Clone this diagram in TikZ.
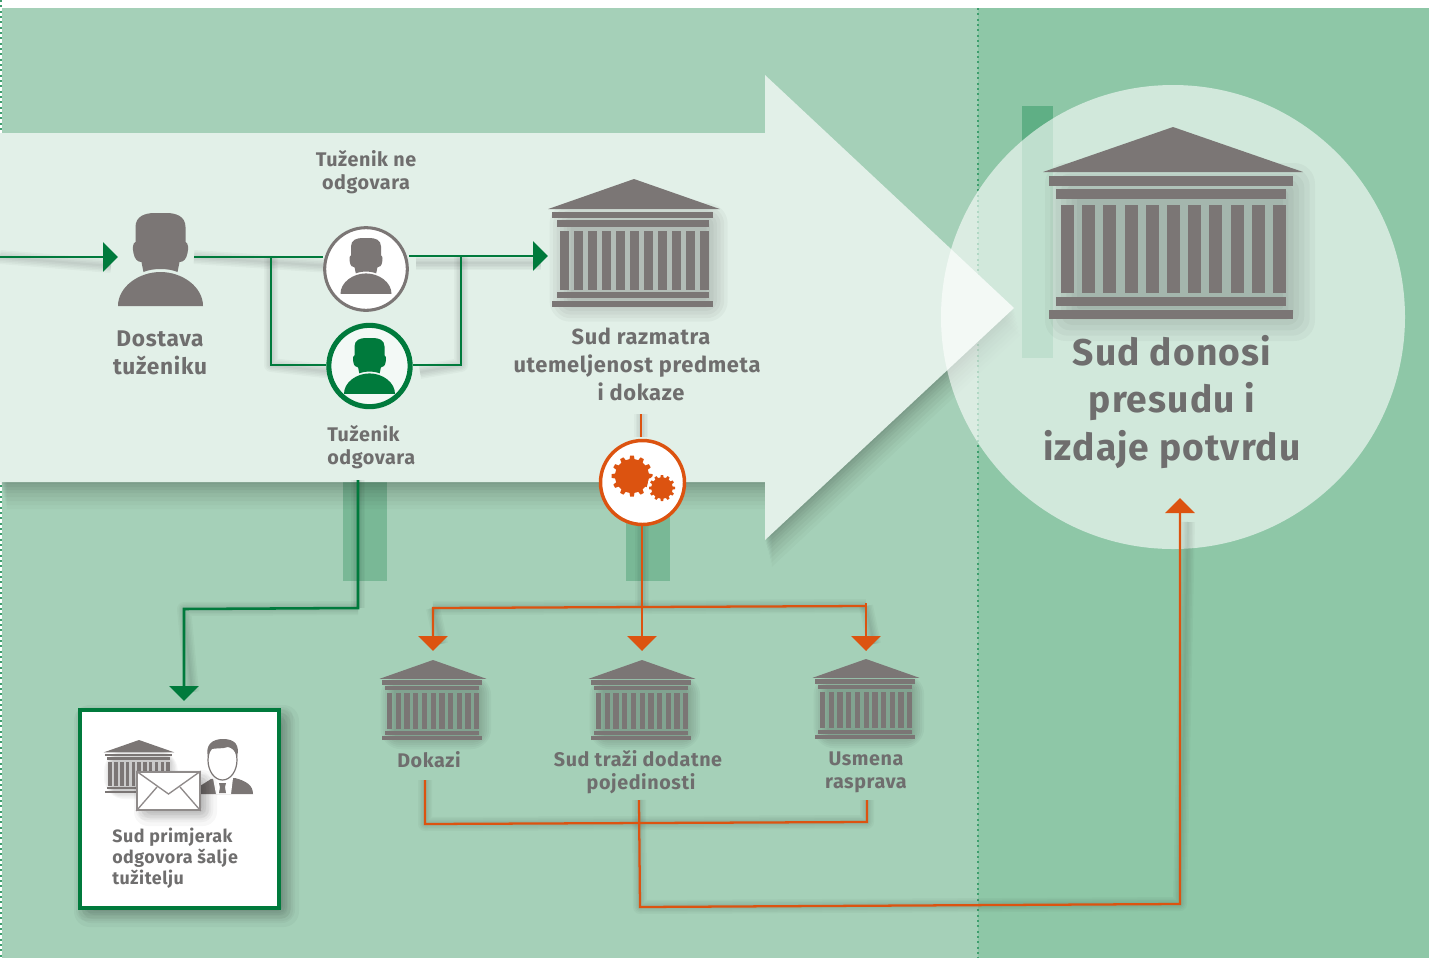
\documentclass[tikz,border=0pt]{standalone}
\usepackage{fontspec}
\setmainfont{Fira Sans}
\usetikzlibrary{arrows.meta}
\definecolor{bgL}{HTML}{A5D0B8}
\definecolor{bgR}{HTML}{8EC7A7}
\definecolor{arrowc}{HTML}{E2F0E8}
\definecolor{bandc}{HTML}{5FAF85}
\definecolor{bandd}{HTML}{79B896}
\definecolor{eugreen}{HTML}{007A3C}
\definecolor{euorange}{HTML}{DC5310}
\definecolor{icong}{HTML}{7B7675}
\definecolor{textg}{HTML}{6F6E6E}
\definecolor{dotg}{HTML}{3E9E6E}
\tikzset{
  x=0.75pt,y=-0.75pt,
  gline/.style={draw=eugreen,line width=1.9pt},
  oline/.style={draw=euorange,line width=1.7pt},
  gtip/.style={-{Triangle[length=11.25pt,width=22pt,fill=eugreen]}},
  otip/.style={-{Triangle[length=11.25pt,width=22pt,fill=euorange]}},
  lab/.style={text=textg,align=center,inner sep=0pt,font=\labfont},
  labsm/.style={text=textg,align=center,inner sep=0pt,font=\smfont},
}
\newcommand\labfont{\fontsize{17pt}{21pt}\bfseries\addfontfeature{LetterSpace=3}\selectfont}
\newcommand\smfont{\fontsize{14.8pt}{17.2pt}\bfseries\addfontfeature{LetterSpace=3}\selectfont}
\newcommand\softline[3]{\foreach \w in {14,11,8,5,2}{\draw[black,draw opacity=.028,line width=\w*0.75pt,line join=round,shift={(#1,#2)}] #3;}}
% soft rectangle: x1 y1 x2 y2 blur
\newcommand\softrect[5]{\foreach \k in {-6,-4,...,6}{\fill[black,fill opacity=.032,rounded corners={max(0.1,(\k+7)*#5/10)*0.75pt}] ({#1-\k*#5/6},{#2-\k*#5/6}) rectangle ({#3+\k*#5/6},{#4+\k*#5/6});}}
% temple: apex at (0,0), 260 wide, 192 high
\newcommand\temple[6]{%
\coordinate (#1) at (#2,#3);
\begin{scope}[shift={(#2,#3)},xscale=#4,yscale=#5]
 \softrect{-112}{52}{126}{198}{16}
 \fill[#6] (-130,45) -- (0,0) -- (130,45) -- cycle;
 \fill[#6] (-124,49) rectangle (120,59);
 \fill[#6] (-117,62) rectangle (113,72);
 \foreach \i in {0,...,10}{\fill[#6] ({-112+21.2*\i},78) rectangle ++(13,88);}
 \fill[#6] (-117,170) rectangle (113,179);
 \fill[#6] (-124,183) rectangle (120,192);
\end{scope}}
\newcommand\person[5]{%
\begin{scope}[shift={(#2,#3)},scale=#4]
 \fill[#5] (-25,34) -- (-25,14) .. controls (-25,3) and (-15,0) .. (-6,0) -- (6,0) .. controls (15,0) and (25,3) .. (25,14) -- (25,29) .. controls (28,30) and (28,36) .. (27,40) .. controls (26,46) and (23,49) .. (19,49) -- (17,59) .. controls (8,55) and (-8,55) .. (-17,59) -- (-19,49) .. controls (-23,49) and (-26,46) .. (-27,40) .. controls (-28,36) and (-28,30) .. (-25,29) -- cycle;
 \fill[#5] (-42.5,93) .. controls (-42.5,74) and (-22,59) .. (0,59) .. controls (22,59) and (42.5,74) .. (42.5,93) -- cycle;
\end{scope}}
\newcommand\gear[4]{%
\fill[euorange] (#1,#2) circle ({#3*.83});
\foreach \a in {1,...,#4}{
 \fill[euorange,shift={(#1,#2)},rotate={\a*360/#4}] ({#3*.78},{-#3*.13}) -- ({#3},{-#3*.09}) -- ({#3},{#3*.09}) -- ({#3*.78},{#3*.13}) -- cycle;}}
\begin{document}
\begin{tikzpicture}
\useasboundingbox (0,0) rectangle (1429,958);
% background
\fill[white] (0,0) rectangle (1429,958);
\fill[bgL] (2,8) rectangle (978,958);
\fill[bgR] (978,8) rectangle (1429,958);
\draw[dotg,line width=.9pt,dash pattern=on 1.5pt off 2.5pt] (978,8) -- (978,958);
\draw[dotg,line width=.9pt,dash pattern=on 1.5pt off 2.5pt] (1,0) -- (1,958);
% bands
\fill[bandc] (1022,106) rectangle (1053,358);
\fill[bandd] (343,482) rectangle (387,581);
\fill[bandd] (626,482) rectangle (670,581);
% big arrow
\foreach \d/\o in {27/.025,23/.025,19/.03,15/.03,11/.035,8/.035,5/.04,2/.04}{
 \fill[black,fill opacity=\o,shift={(\d*.25,\d)}] (0,133) -- (765,133) -- (765,75) -- (1014,308) -- (765,540) -- (765,482) -- (0,482) -- cycle;}
\fill[arrowc] (0,133) -- (765,133) -- (765,75) -- (1014,308) -- (765,540) -- (765,482) -- (0,482) -- cycle;
% result circle
\fill[white,fill opacity=.6] (1173,317) circle (232);
% coordinates
\coordinate (inL) at (0,257);
\coordinate (inR) at (118,257);
\coordinate (outA) at (194,257);
\coordinate (jA) at (271,257);
\coordinate (jAd) at (271,365);
\coordinate (jB) at (461,256);
\coordinate (jBd) at (461,365);
\coordinate (toCourt) at (548,256);
\coordinate (rT) at (358,480);
\coordinate (rA) at (358,608);
\coordinate (rB) at (184,609);
\coordinate (rC) at (184,701);
\coordinate (cT) at (641,414);
\coordinate (cB) at (641,437);
\coordinate (oTop) at (642,526);
\coordinate (oMid) at (642,651);
\coordinate (oJ) at (642,607);
\coordinate (oL) at (433,608);
\coordinate (oLd) at (433,651);
\coordinate (oR) at (866,606);
\coordinate (oRt) at (866,603);
\coordinate (oRd) at (866,651);
\coordinate (dA) at (425,780);
\coordinate (dB) at (425,824);
\coordinate (uA) at (867,800);
\coordinate (uB) at (867,822);
\coordinate (pA) at (639,800);
\coordinate (pB) at (640,907);
\coordinate (fA) at (1180,904);
\coordinate (fB) at (1180,498);
% connector shadows
\softline{6}{9}{(inL) -- (105,257)}
\softline{6}{9}{(outA) -- (323,257)}
\softline{7}{7}{(jA) -- (jAd) -- (326,365)}
\softline{7}{7}{(409,256) -- (534,256)}
\softline{7}{7}{(jB) -- (jBd) -- (413,365)}
\softline{8}{7}{(rA) -- (rB) -- (184,685)}
\softline{8}{7}{(rT) -- (rA)}
\softline{8}{7}{(oTop) -- (oJ)}
\softline{8}{8}{(oL) -- (oR)}
\softline{8}{8}{(oL) -- (433,636)}
\softline{8}{8}{(oR) -- (866,636)}
\softline{8}{8}{(dA) -- (dB) -- (uB) -- (uA)}
\softline{8}{8}{(pA) -- (pB) -- (fA) -- (1180,514)}
\softline{6}{2}{(cT) -- (cB)}
% green connectors
\draw[gline,gtip] (inL) -- (inR);
\draw[gline] (outA) -- (323,257);
\draw[gline,line join=miter] (jA) -- (jAd) -- (326,365);
\draw[gline] (409,256) -- (534,256);
\draw[gline,gtip] (jB) ++(73,0) -- (toCourt);
\draw[gline,line join=miter] (jB) -- (jBd) -- (413,365);
\draw[gline,gtip,line join=miter] (rT) -- (rA) -- (rB) -- (rC);
% orange connectors
\draw[oline] (cT) -- (cB);
\draw[oline,otip] (oTop) -- (oMid);
\draw[oline,otip,line join=miter] (oJ) -- (oL) -- (oLd);
\draw[oline] (oJ) -- (oR);
\draw[oline,otip] (oRt) -- (oRd);
\draw[oline,line join=miter] (dA) -- (dB) -- (uB) -- (uA);
\draw[oline,otip,line join=miter] (pA) -- (pB) -- (fA) -- (fB);
% person, circles
\person{pA1}{160.5}{213}{1}{icong}
\node[circle,draw=icong,fill=white,line width=2.3pt,minimum size=62pt,inner sep=0pt] (noans) at (366,269) {};
\person{pN}{366}{238}{.6}{icong}
\node[circle,draw=eugreen,fill=arrowc!40,line width=3.8pt,minimum size=61pt,inner sep=0pt] (ans) at (369.5,366) {};
\person{pY}{369.5}{338}{.6}{eugreen}
% gears circle
\node[circle,draw=euorange,fill=white,line width=2.6pt,minimum size=63pt,inner sep=0pt] (gears) at (642.5,482.5) {};
\gear{632}{476}{20.5}{12}
\fill[white] (662,488) circle (15);
\gear{662}{488}{13}{12}
% temples
\temple{tMid}{634}{179}{.66}{.667}{icong}
\temple{tBig}{1173}{127}{1}{1}{icong}
\temple{tA}{433}{660}{.41}{.417}{icong}
\temple{tB}{642}{660}{.41}{.417}{icong}
\temple{tC}{866}{659}{.41}{.417}{icong}
% white box
\softrect{86}{717}{287}{915}{12}
\softrect{84}{715}{285}{913}{8}
\node[draw=eugreen,fill=white,line width=3pt,minimum width=149.5pt,minimum height=148.5pt,inner sep=0pt] (box) at (179.3,809) {};
\temple{tBox}{139}{740}{.273}{.276}{icong}
% man
\fill[icong] (200,794) -- (200,786) -- (211,779) -- (235,778) .. controls (246,781) and (253,785) .. (253,794) -- cycle;
\fill[white] (213,778) -- (233,778) -- (231,794) -- (216,794) -- cycle;
\fill[icong] (219,783) -- (226,783) -- (225,787) -- (226,793) -- (219,793) -- (220,787) -- cycle;
\fill[white,draw=icong,line width=.9pt] (222.5,760) ellipse (14.5 and 20);
\fill[icong] (208,757) .. controls (205,745) and (212,739) .. (223,739) .. controls (235,739) and (240,745) .. (237,757) .. controls (235,750) and (232,748) .. (228,747) .. controls (222,749) and (215,748) .. (212,749) .. controls (210,751) and (209,753) .. (208,757) -- cycle;
% envelope
\softrect{145}{781}{206}{815}{11}
\softrect{143}{779}{204}{813}{7}
\node[draw=icong!85,fill=white,line width=1.4pt,minimum width=47pt,minimum height=28.5pt,inner sep=0pt] (env) at (168.5,791) {};
\draw[icong!85,line width=1pt,line join=miter] (env.north west) -- (168.5,794) -- (env.north east);
\draw[icong!85,line width=1pt] (env.south west) -- (157,787);
\draw[icong!85,line width=1pt] (env.south east) -- (180,787);
% labels
\node[labsm] (t1) at (366,172) {Tuženik ne\\odgovara};
\node[lab] (t2) at (160,352.5) {Dostava\\tuženiku};
\node[labsm,align=left,anchor=west] (t3) at (327,447) {Tuženik\\odgovara};
\node[lab,font=\fontsize{16.4pt}{21pt}\bfseries\addfontfeature{LetterSpace=3}\selectfont] (t4) at (637,364) {\hspace*{6pt}Sud razmatra\\utemeljenost predmeta\\\hspace*{6pt}i dokaze};
\node[lab,font=\fontsize{27.9pt}{35.4pt}\bfseries\addfontfeature{LetterSpace=3}\selectfont] (t5) at (1172,402) {Sud donosi\\presudu i\hspace*{6pt}\\izdaje potvrdu};
\node[labsm] (t6) at (429,760) {Dokazi};
\node[labsm] (t7) at (638,772.5) {Sud traži dodatne\\\hspace*{4.5pt}pojedinosti};
\node[labsm] (t8) at (866,772.5) {Usmena\\rasprava};
\node[labsm,align=left,anchor=west,font=\fontsize{13.4pt}{15.7pt}\bfseries\addfontfeature{LetterSpace=3}\selectfont] (t9) at (112,858) {Sud primjerak\\odgovora šalje\\tužitelju};
\end{tikzpicture}
\end{document}
